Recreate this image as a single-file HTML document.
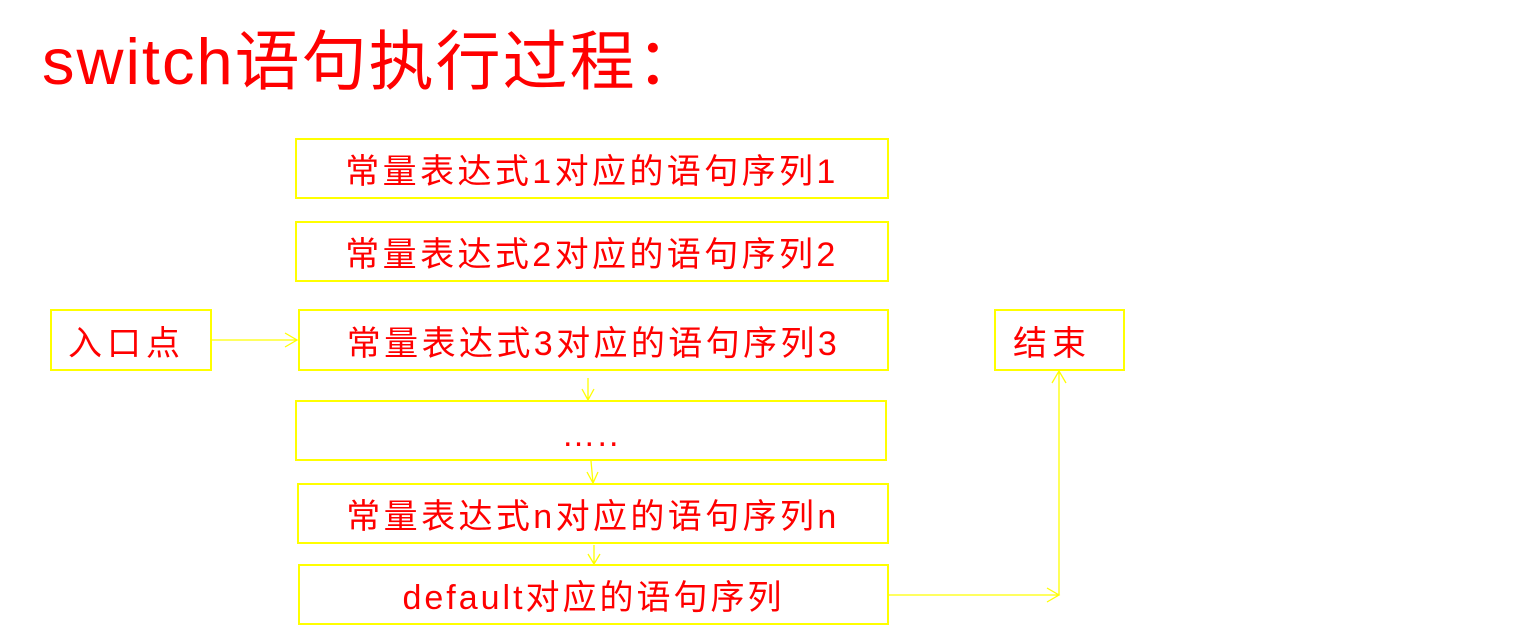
<!DOCTYPE html>
<html><head><meta charset="utf-8"><style>
body{margin:0;width:1524px;height:641px;background:#fff;position:relative;overflow:hidden;font-family:"Liberation Sans","Noto Sans CJK SC",sans-serif;color:#f00}
.t{position:absolute;left:42px;top:20px;font-size:65px;letter-spacing:2px;line-height:84px;white-space:nowrap}
.b{position:absolute;border:2px solid #ffff00;box-sizing:border-box;display:flex;align-items:center;justify-content:center;font-size:34px;letter-spacing:3.4px;white-space:nowrap}
</style></head><body>
<div class="t">switch语句执行过程：</div>
<div class="b" style="left:295px;top:138px;width:594px;height:61px">常量表达式1对应的语句序列1</div>
<div class="b" style="left:295px;top:221px;width:594px;height:61px">常量表达式2对应的语句序列2</div>
<div class="b" style="left:298px;top:309px;width:591px;height:62px">常量表达式3对应的语句序列3</div>
<div class="b" style="left:50px;top:309px;width:162px;height:62px;justify-content:flex-start;padding-left:16px;letter-spacing:5px">入口点</div>
<div class="b" style="left:295px;top:400px;width:592px;height:61px;padding-top:10px;letter-spacing:2px">…..</div>
<div class="b" style="left:297px;top:483px;width:592px;height:61px">常量表达式n对应的语句序列n</div>
<div class="b" style="left:298px;top:564px;width:591px;height:61px;letter-spacing:3px">default对应的语句序列</div>
<div class="b" style="left:994px;top:309px;width:131px;height:62px;justify-content:flex-start;padding-left:17px;letter-spacing:5px">结束</div>
<svg width="1524" height="641" style="position:absolute;left:0;top:0" fill="none" stroke="#ffff00" stroke-width="1.3">
<path d="M212 340H297M285 333L297 340L285 347"/>
<path d="M588 378V400M582 389L588 400L594 389"/>
<path d="M591 461L593 483M587 472L593 483L598 472"/>
<path d="M594 545V564M588 554L594 564L600 554"/>
<path d="M889 595H1059V371M1047 588L1059 595L1047 602M1052 383L1059 371L1066 383"/>
</svg>
</body></html>
